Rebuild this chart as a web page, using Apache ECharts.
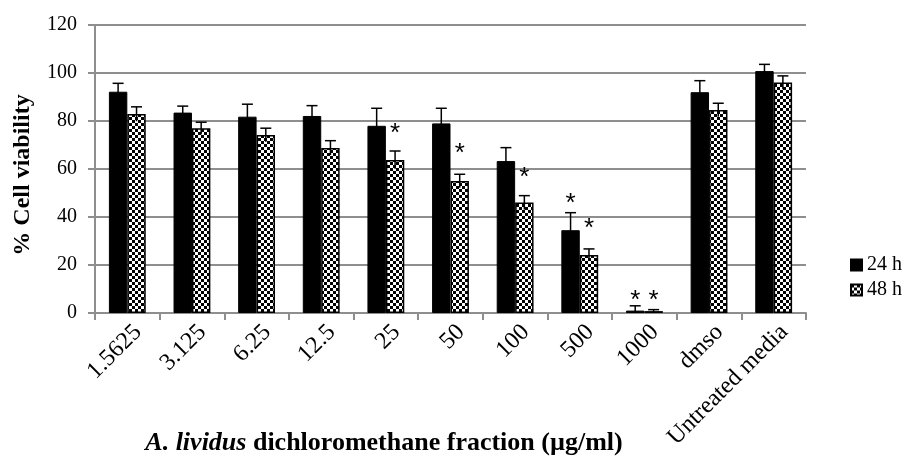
<!DOCTYPE html>
<html>
<head>
<meta charset="utf-8">
<script src="https://cdn.jsdelivr.net/npm/echarts@6/dist/echarts.min.js"></script>
<style>html,body{margin:0;padding:0;background:#fff;}#c{width:908px;height:457px;}</style>
</head>
<body>
<div id="c"></div>
<script>
const categories = ['1.5625', '3.125', '6.25', '12.5', '25', '50', '100', '500', '1000', 'dmso', 'Untreated media'];
const viability24 = [92.2, 83.5, 81.8, 82.1, 78.0, 79.0, 63.3, 34.5, 1.0, 92.0, 100.8];
const err24 = [3.5, 2.7, 5.2, 4.3, 7.3, 6.3, 5.6, 7.3, 2.0, 4.8, 2.8];
const viability48 = [82.9, 77.0, 74.2, 68.8, 63.8, 55.0, 46.0, 24.2, 0.8, 84.6, 96.0];
const err48 = [3.0, 2.5, 2.8, 3.0, 3.7, 2.8, 2.9, 2.5, 0.6, 2.8, 2.8];
// significance markers (height of the "*" annotation, in % units; null = none)
const star24 = [null, null, null, null, null, null, null, 48, 7.5, null, null];
const star48 = [null, null, null, null, 77, 68.7, 59, 37.5, 7.5, null, null];
const seriesNames = ['24 h', '48 h'];
const yMin = 0, yMax = 120, yStep = 20;

const FONT = '"Liberation Serif", "Times New Roman", serif';
const GAP = 0.43;

const pc = document.createElement('canvas');
pc.width = 6; pc.height = 6;
const px = pc.getContext('2d');
px.fillStyle = '#fff'; px.fillRect(0, 0, 6, 6);
px.fillStyle = '#000'; px.fillRect(0, 0, 3, 3); px.fillRect(3, 3, 3, 3);

function errRender(sign) {
  return function (params, api) {
    const i = api.value(0), v = api.value(1), e = api.value(2);
    const band = api.size([1, 0])[0];
    const bw = band * (1 - GAP) / 2;
    const x = api.coord([i, v])[0] + sign * bw / 2;
    const yTop = api.coord([i, v + e])[1];
    const yBot = api.coord([i, Math.max(0, v - e)])[1];
    const cap = 5.5;
    return {
      type: 'group',
      children: [
        {type: 'line', shape: {x1: x, y1: yTop, x2: x, y2: yBot}, style: {stroke: '#000', lineWidth: 1.5}},
        {type: 'line', shape: {x1: x - cap, y1: yTop, x2: x + cap, y2: yTop}, style: {stroke: '#000', lineWidth: 1.5}}
      ]
    };
  };
}
function starRender(sign) {
  return function (params, api) {
    const i = api.value(0), v = api.value(1);
    const band = api.size([1, 0])[0];
    const bw = band * (1 - GAP) / 2;
    const p = api.coord([i, v]);
    return {
      type: 'text',
      style: {text: '*', x: p[0] + sign * bw / 2, y: p[1] + 6, align: 'center', verticalAlign: 'middle',
        fontSize: 26, fontFamily: '"Liberation Sans", Arial, sans-serif', fill: '#000'}
    };
  };
}
function errData(vals, errs) { return vals.map((v, i) => [i, v, errs[i]]); }
function starData(arr) { return arr.map((v, i) => v == null ? null : [i, v]).filter(d => d); }

const chart = echarts.init(document.getElementById('c'), null, {renderer: 'canvas'});
chart.setOption({
  animation: false,
  backgroundColor: '#fff',
  grid: {left: 95, right: 102, top: 25, bottom: 144},
  legend: {
    data: seriesNames, orient: 'vertical', left: 845, top: 250, itemWidth: 11, itemHeight: 11, itemGap: 5,
    textStyle: {fontFamily: FONT, fontSize: 20, color: '#000'}, icon: 'rect'
  },
  xAxis: {
    type: 'category', data: categories,
    axisLine: {lineStyle: {color: '#8e8e8e', width: 2}},
    axisTick: {show: true, length: 7, lineStyle: {color: '#8e8e8e', width: 2}},
    axisLabel: {rotate: 45, margin: 5, fontFamily: FONT, fontSize: 24, lineHeight: 30, color: '#000', interval: 0,
      verticalAlign: 'top'}
  },
  yAxis: {
    type: 'value', min: yMin, max: yMax, interval: yStep,
    name: '% Cell viability', nameLocation: 'middle', nameGap: 60,
    nameTextStyle: {fontFamily: FONT, fontSize: 24, fontWeight: 'bold', color: '#000', padding: [0, 12, 0, 0]},
    axisLine: {show: true, lineStyle: {color: '#8e8e8e', width: 2}},
    axisTick: {show: true, length: 7, lineStyle: {color: '#8e8e8e', width: 2}},
    splitLine: {lineStyle: {color: '#8e8e8e', width: 2}},
    axisLabel: {margin: 18, fontFamily: FONT, fontSize: 20, color: '#000'}
  },
  graphic: [{
    type: 'text', x: 384, y: 443,
    style: {
      text: '{i|A. lividus} dichloromethane fraction (µg/ml)',
      align: 'center', verticalAlign: 'middle',
      fontFamily: FONT, fontSize: 26, fontWeight: 'bold', fill: '#000',
      rich: {i: {fontFamily: FONT, fontSize: 26, fontWeight: 'bold', fontStyle: 'italic', fill: '#000'}}
    }
  }],
  series: [
    {name: seriesNames[0], type: 'bar', data: viability24, barGap: '0%', barCategoryGap: '43%',
      itemStyle: {color: '#000', borderColor: '#000', borderWidth: 1}},
    {name: seriesNames[1], type: 'bar', data: viability48, barGap: '0%', barCategoryGap: '43%',
      itemStyle: {color: {image: pc, repeat: 'repeat'}, borderColor: '#000', borderWidth: 1.5}},
    {type: 'custom', name: 'e24', data: errData(viability24, err24), renderItem: errRender(-1), encode: {x: 0, y: 1}, z: 5},
    {type: 'custom', name: 'e48', data: errData(viability48, err48), renderItem: errRender(1), encode: {x: 0, y: 1}, z: 5},
    {type: 'custom', name: 's24', data: starData(star24), renderItem: starRender(-1), encode: {x: 0, y: 1}, z: 6},
    {type: 'custom', name: 's48', data: starData(star48), renderItem: starRender(1), encode: {x: 0, y: 1}, z: 6}
  ]
});
</script>
</body>
</html>
